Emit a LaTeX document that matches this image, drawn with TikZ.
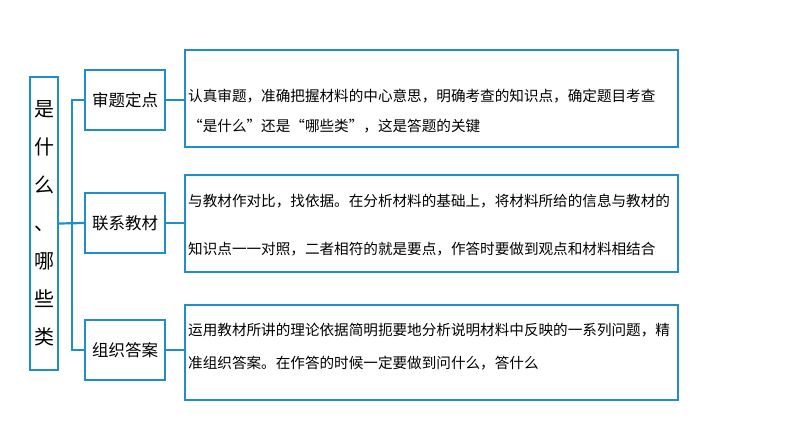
\documentclass[tikz,border=0pt]{standalone}
\usepackage{fontspec}
\newfontfamily\cjk{Noto Sans CJK SC}
\usetikzlibrary{positioning}
\definecolor{frameblue}{RGB}{32,142,200}

\begin{document}
\begin{tikzpicture}[x=1pt,y=-1pt,
    box/.style={draw=frameblue,line width=2.2pt,fill=white,inner sep=0pt},
    link/.style={draw=frameblue,line width=2.2pt},
    bodytext/.style={anchor=west,align=left,inner sep=0pt,font=\cjk\fontsize{14.6}{30}\selectfont}]
      \useasboundingbox (0,0) rectangle (794,447);
      \node[box,minimum width=28,minimum height=293,font=\cjk\fontsize{20}{38}\selectfont,align=center] (topic) at (44,223.5) {是\\什\\么\\、\\哪\\些\\类};
      \node[box,minimum width=80,minimum height=60,font=\cjk\fontsize{16.5}{20}\selectfont] (check) at (125,100) {审题定点};
      \node[box,minimum width=80,minimum height=60,font=\cjk\fontsize{16.5}{20}\selectfont] (link) at (125,223) {联系教材};
      \node[box,minimum width=80,minimum height=60,font=\cjk\fontsize{16.5}{20}\selectfont] (answer) at (125,350) {组织答案};
      \node[box,minimum width=493,minimum height=97] (checktext) at (431.5,98.5) {};
      \node[box,minimum width=493,minimum height=97] (linktext) at (431.5,223.5) {};
      \node[box,minimum width=493,minimum height=95] (answertext) at (431.5,352.5) {};
      \coordinate (fork) at (72,223);
      \draw[link] (topic.east) -- (link.west);
      \draw[link] (check.west) -| (fork) |- (answer.west);
      \draw[link] (check.east) -- (check.east -| checktext.west);
      \draw[link] (link.east) -- (link.east -| linktext.west);
      \draw[link] (answer.east) -- (answer.east -| answertext.west);
      \node[bodytext] (checkbody) at (188,111) {认真审题，准确把握材料的中心意思，明确考查的知识点，确定题目考查\\“是什么”还是“哪些类”，这是答题的关键};
      \node[bodytext] (linkbody) at (188,225) {与教材作对比，找依据。在分析材料的基础上，将材料所给的信息与教材的\\[18pt]知识点一一对照，二者相符的就是要点，作答时要做到观点和材料相结合};
      \node[bodytext] (answerbody) at (188,346.5) {运用教材所讲的理论依据简明扼要地分析说明材料中反映的一系列问题，精\\[3pt]准组织答案。在作答的时候一定要做到问什么，答什么};
\end{tikzpicture}
\end{document}
